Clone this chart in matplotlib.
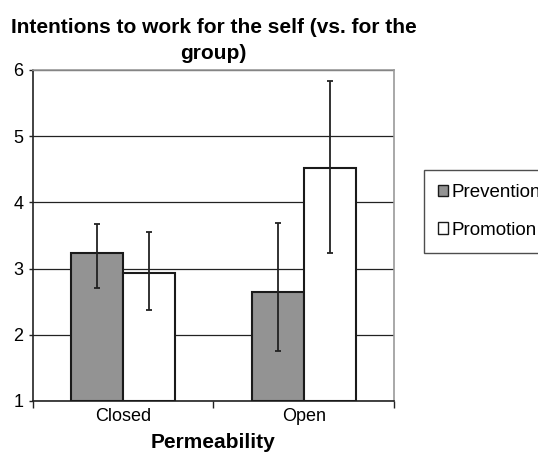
import numpy as np
import matplotlib.pyplot as plt
from matplotlib.patches import Patch

plt.rcParams['font.family'] = ['Liberation Sans', 'DejaVu Sans']

# data
categories = ['Closed', 'Open']
series = ['Prevention', 'Promotion']
prevention = [3.23, 2.65]
promotion = [2.94, 4.52]
prev_lo = [2.70, 1.76]
prev_hi = [3.67, 3.69]
prom_lo = [2.38, 3.23]
prom_hi = [3.55, 5.84]
yticks = [1, 2, 3, 4, 5, 6]

fig = plt.figure(figsize=(5.38, 4.53), dpi=100)
ax = fig.add_axes([0.0613, 0.1148, 0.671, 0.7307])

x = np.arange(len(categories))
w = 0.287
prev = np.array(prevention)
prom = np.array(promotion)
prev_err = [prev - np.array(prev_lo), np.array(prev_hi) - prev]
prom_err = [prom - np.array(prom_lo), np.array(prom_hi) - prom]

ax.bar(x - w/2, prev - 1, w, bottom=1, color='#939393', edgecolor='#1a1a1a',
       linewidth=1.5, zorder=3)
ax.bar(x + w/2, prom - 1, w, bottom=1, color='white', edgecolor='#1a1a1a',
       linewidth=1.5, zorder=3)
ax.errorbar(x - w/2, prev, yerr=prev_err, fmt='none', ecolor='#222222',
            elinewidth=1.3, capsize=2.5, capthick=1.3, zorder=4)
ax.errorbar(x + w/2, prom, yerr=prom_err, fmt='none', ecolor='#222222',
            elinewidth=1.3, capsize=2.5, capthick=1.3, zorder=4)

ax.set_xlim(-0.5, 1.5)
ax.set_ylim(1, 6)
ax.set_yticks(yticks)
ax.yaxis.grid(True, color='#222222', linewidth=0.9, zorder=0)
ax.set_axisbelow(True)

# category ticks at the boundaries
ax.set_xticks([-0.5, 0.5, 1.5])
ax.set_xticklabels([])
ax.set_xticks(x, minor=True)
ax.set_xticklabels(categories, minor=True, fontsize=13)
ax.tick_params(axis='x', which='minor', length=0, pad=5)
ax.tick_params(axis='x', which='major', length=5, width=1, color='#222222')
ax.tick_params(axis='y', length=3, width=1, color='#222222', labelsize=13, pad=4)

for s in ['top', 'right']:
    ax.spines[s].set_color('#999999')
    ax.spines[s].set_linewidth(1.2)
for s in ['left', 'bottom']:
    ax.spines[s].set_color('#222222')
    ax.spines[s].set_linewidth(1.2)

ax.set_xlabel('Permeability', fontsize=15, fontweight='bold', labelpad=6)
ax.set_title('Intentions to work for the self (vs. for the\ngroup)',
             fontsize=15, fontweight='bold', pad=8, linespacing=1.45)

handles = [Patch(facecolor='#939393', edgecolor='#1a1a1a', linewidth=1),
           Patch(facecolor='white', edgecolor='#1a1a1a', linewidth=1)]
leg = fig.legend(handles, series, loc='upper left',
                 bbox_to_anchor=(0.788, 0.625), frameon=True, fancybox=False,
                 edgecolor='#222222', fontsize=13.5, handlelength=0.55,
                 handleheight=0.55, handletextpad=0.15, labelspacing=1.1,
                 borderpad=0.75, borderaxespad=0)
leg.get_frame().set_linewidth(1.0)

plt.savefig('out.png', dpi=100)
